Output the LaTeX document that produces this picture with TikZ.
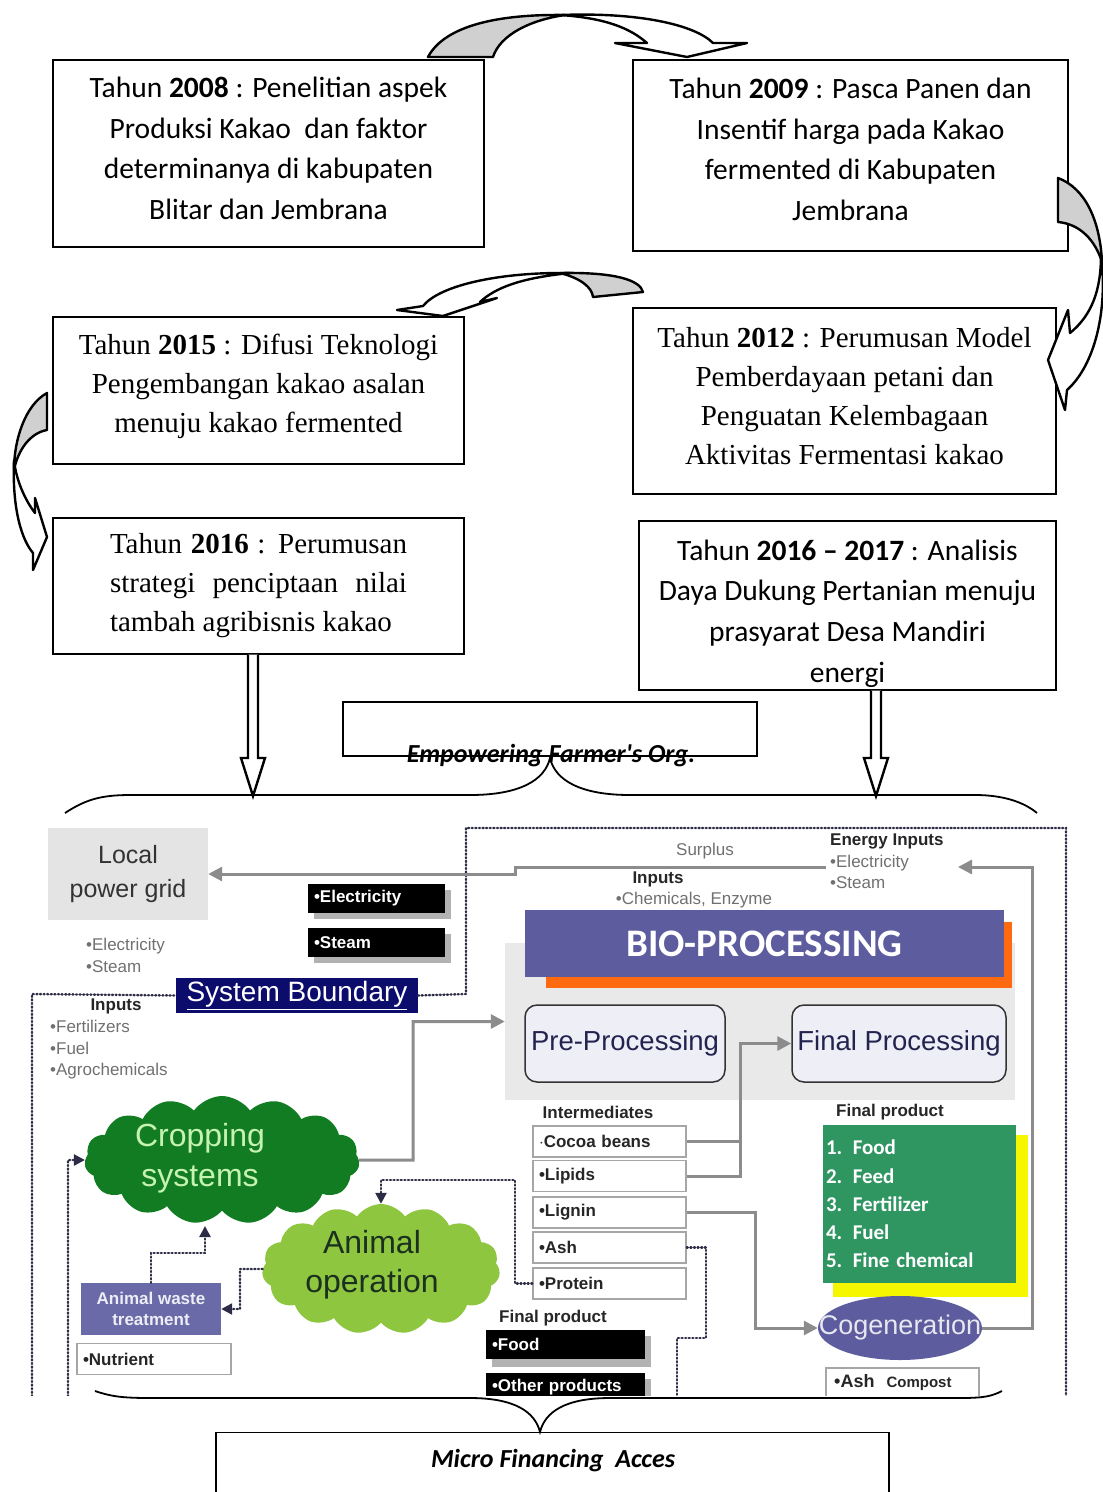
\documentclass[tikz,border=0pt]{standalone}
\usepackage{fontspec}
\setmainfont{Carlito}
\newfontfamily\timesfont{Liberation Serif}
\newfontfamily\arialfont{Liberation Sans}
\usepackage{tikz}
\usetikzlibrary{shapes.geometric,shapes.symbols,arrows.meta,calc}

\definecolor{navyband}{HTML}{0C0C6C}
\definecolor{bioviolet}{HTML}{5C5C9E}
\definecolor{bioorange}{HTML}{FF6A10}
\definecolor{cropgreen}{HTML}{127C22}
\definecolor{croptext}{HTML}{C6F2B2}
\definecolor{animalgreen}{HTML}{8EC640}
\definecolor{animaltext}{HTML}{1C3020}
\definecolor{prodgreen}{HTML}{2F9662}
\definecolor{prodyellow}{HTML}{F6F600}
\definecolor{wasteviolet}{HTML}{6A6AA8}
\definecolor{lavender}{HTML}{EEEEF6}
\definecolor{procblue}{HTML}{23234F}
\definecolor{panelgray}{HTML}{E9E9E9}
\definecolor{gridgray}{HTML}{E4E4E4}
\definecolor{arrowgray}{HTML}{8C8C8C}
\definecolor{textgray}{HTML}{707070}
\definecolor{dotblue}{HTML}{2C2C46}
\definecolor{bandgray}{HTML}{D0D0D0}

\begin{document}
\begin{tikzpicture}[x=1pt,y=1pt,yscale=-1,
    yearbox/.style={draw, line width=1.2, inner sep=0},
    calfont/.style={align=center, inner sep=0, font=\fontsize{29.5}{40.7}\selectfont},
    timfont/.style={align=center, inner sep=0, font=\timesfont\fontsize{29}{39}\selectfont},
    blockarrow/.style={line width=2.4, line join=round},
    hollowarrow/.style={line width=2.4, fill=white, line join=miter},
    brace/.style={line width=1.8},
    graytext/.style={inner sep=0, text=textgray, font=\arialfont\fontsize{17}{21.5}\selectfont},
    boldlabel/.style={inner sep=0, text=black!85, font=\arialfont\bfseries\fontsize{17}{17}\selectfont},
    blackbox/.style={fill=black, text=white, minimum height=29, inner xsep=6, align=left, font=\arialfont\bfseries\fontsize{17}{17}\selectfont},
    ibox/.style={draw=gray!70, line width=1.5, fill=white, minimum height=31, text width=141, inner xsep=6, align=left, text=black!85, font=\arialfont\bfseries\fontsize{17}{17}\selectfont},
    procbox/.style={draw=black!80, line width=1.5, rounded corners=12, fill=lavender, minimum height=77, text=procblue, font=\arialfont\fontsize{27.5}{27.5}\selectfont},
    grayarrow/.style={draw=arrowgray, line width=3, -{Triangle[width=14pt,length=14pt]}},
    dotline/.style={draw=dotblue, line width=2.4, dash pattern=on 1pt off 2.6pt, line cap=round},
    dotarrow/.style={dotline, -{Triangle[width=11pt,length=11pt]}}]
\useasboundingbox (0,0) rectangle (1103,1492);

% Year boxes
\node (y2008) [yearbox, minimum width=431, minimum height=187] at (268.5,153.5) {};
\node (y2009) [yearbox, minimum width=435, minimum height=191] at (850.5,155.5) {};
\node (y2015) [yearbox, minimum width=411, minimum height=147] at (258.5,390.5) {};
\node (y2012) [yearbox, minimum width=423, minimum height=186] at (844.5,401) {};
\node (y2016) [yearbox, minimum width=411, minimum height=136] at (258.5,586) {};
\node (b1617) [yearbox, minimum width=417, minimum height=169] at (847.5,605.5) {};
% Text Node
\node (t2008) [calfont] at ($(y2008)+(0,-5)$) {Tahun \textbf{2008} : Penelitian aspek\\Produksi Kakao\ \ dan faktor\\determinanya di kabupaten\\Blitar dan Jembrana};
\node (t2009) [calfont] at ($(y2009)+(0,-6)$) {Tahun \textbf{2009} : Pasca Panen dan\\Insentif harga pada Kakao\\fermented di Kabupaten\\Jembrana};
\node (t2015) [timfont] at ($(y2015)+(0,-4)$) {Tahun \textbf{2015} : Difusi Teknologi\\Pengembangan kakao asalan\\menuju kakao fermented};
\node (t2012) [timfont] at ($(y2012)+(0,-5)$) {Tahun \textbf{2012} : Perumusan Model\\Pemberdayaan petani dan\\Penguatan Kelembagaan\\Aktivitas Fermentasi kakao};
\node (t2016) [timfont] at (y2016) {\makebox[297pt][s]{Tahun \textbf{2016} : Perumusan}\\\makebox[297pt][s]{strategi penciptaan nilai}\\\makebox[297pt][l]{tambah agribisnis kakao}};
\node (t1617) [calfont] at ($(b1617)+(0,8)$) {Tahun \textbf{2016 -- 2017} : Analisis\\Daya Dukung Pertanian menuju\\prasyarat Desa Mandiri\\energi};

%Curve Arrow 2008 -> 2009
\draw[blockarrow, fill=white] (560,15) .. controls (640,12) and (695,25) .. (713,43) -- (747,43) -- (687,57) -- (615,43) -- (647,43) .. controls (630,28) and (605,18) .. (560,15) -- cycle;
\draw[blockarrow, fill=bandgray] (428,57) .. controls (445,25) and (500,14) .. (565,15) .. controls (530,20) and (500,35) .. (493,57) -- cycle;
%Curve Arrow 2009 -> 2012
\draw[blockarrow, fill=white] (1101,255) .. controls (1108,310) and (1095,365) .. (1067,390) -- (1065,410) -- (1048,360) -- (1068,310) -- (1070,333) .. controls (1092,315) and (1101,290) .. (1101,255) -- cycle;
\draw[blockarrow, fill=bandgray] (1058,178) .. controls (1085,188) and (1100,220) .. (1102,262) .. controls (1095,240) and (1080,224) .. (1058,222) -- cycle;
%Curve Arrow 2012 -> 2015
\draw[blockarrow, fill=white] (570,273) .. controls (500,272) and (440,285) .. (423,306) -- (397,310) -- (443,316) -- (497,298) -- (480,302) .. controls (495,288) and (520,278) .. (570,273) -- cycle;
\draw[blockarrow, fill=bandgray] (643,292) .. controls (640,280) and (615,272) .. (560,273) .. controls (580,278) and (592,287) .. (593,297) -- cycle;
%Curve Arrow 2015 -> 2016
\draw[blockarrow, fill=white] (14,460) .. controls (12,510) and (22,540) .. (33,553) -- (33,570) -- (47,537) -- (35,498) -- (35,513) .. controls (25,500) and (16,480) .. (14,460) -- cycle;
\draw[blockarrow, fill=bandgray] (47,393) .. controls (25,405) and (14,440) .. (14,470) .. controls (18,450) and (30,433) .. (47,430) -- cycle;

% Empowering box
\node (empower) [draw, line width=1.2, minimum width=414, minimum height=54] at (550,729) {};
\node (emptext) [anchor=base, inner sep=0, font=\bfseries\itshape\fontsize{26}{26}\selectfont] at (551,762) {Empowering Farmer\textquotesingle s Org.};

% Hollow arrows
\coordinate (tipL) at (253,796);
\coordinate (tipR) at (876,796);
\draw[hollowarrow] ($(tipL |- y2016.south)+(-5,0)$) -- ($(tipL)+(-5,-38)$) -- ($(tipL)+(-12,-38)$) -- (tipL) -- ($(tipL)+(12,-38)$) -- ($(tipL)+(5,-38)$) -- ($(tipL |- y2016.south)+(5,0)$);
\draw[hollowarrow] ($(tipR |- b1617.south)+(-5,0)$) -- ($(tipR)+(-5,-38)$) -- ($(tipR)+(-12,-38)$) -- (tipR) -- ($(tipR)+(12,-38)$) -- ($(tipR)+(5,-38)$) -- ($(tipR |- b1617.south)+(5,0)$);

%Brace top
\draw[brace] (65,813) .. controls (85,800) and (100,795) .. (130,795) -- (470,795) .. controls (520,795) and (545,780) .. (550,758) .. controls (555,780) and (580,795) .. (630,795) -- (975,795) .. controls (1005,795) and (1025,803) .. (1037,813);

% Bio-processing system figure
\begin{scope}
\clip (0,815) rectangle (1103,1395);
%Shape: Rectangle
\node (grid) [fill=gridgray, minimum width=160, minimum height=92, align=center, text=black!80, font=\arialfont\fontsize{25}{34}\selectfont] at (128,874) {Local\\power grid};
\node (gridout) [graytext, anchor=north west, align=left] at (86,938) {•Electricity\\•Steam};
\fill[gray!60] (314,890) rectangle (451,919);
\fill[gray!60] (314,934) rectangle (451,963);
\node (elec) [blackbox, text width=125] at (376.5,898.5) {•Electricity};
\node (steam) [blackbox, text width=125] at (376.5,942.5) {•Steam};
\node (sysb) [fill=navyband, minimum width=242, minimum height=35, inner sep=0, text=white, font=\arialfont\fontsize{28}{28}\selectfont] at (297,995.5) {\underline{System Boundary}};
%Dotted boundary
\draw[dotline] (32,1400) -- (32,994) -- (sysb.west);
\draw[dotline] (sysb.east) -- (466,994) -- (466,828) -- (1066,828) -- (1066,1400);
% Text Node
\node (inputsA) [boldlabel] at (116,1006) {Inputs};
\node (inlist) [graytext, anchor=north west, align=left] at (50,1020) {•Fertilizers\\•Fuel\\•Agrochemicals};
\node (surplus) [graytext] at (705,851) {Surplus};
\node (inputsB) [boldlabel] at (658,879) {Inputs};
\node (chem) [graytext] at (694,900) {•Chemicals, Enzyme};
\node (energy) [graytext, anchor=north west, align=left] at (830,834) {{\bfseries\color{black!85}Energy Inputs}\\•Electricity\\•Steam};
%Bio-processing panel
\node (panel) [fill=panelgray, minimum width=510, minimum height=157, inner sep=0] at (760,1021.5) {};
\fill[bioorange] (546,922) rectangle (1012,988);
\node (bio) [fill=bioviolet, minimum width=479, minimum height=67, inner sep=0, text=white, font=\bfseries\fontsize{39}{39}\selectfont] at (764.5,943.5) {BIO-PROCESSING};
\node (pre) [procbox, minimum width=200] at (625,1043.5) {Pre-Processing};
\node (final) [procbox, minimum width=214] at (899,1043.5) {Final Processing};
%Clouds
\node (crop) [cloud, cloud puffs=15, cloud puff arc=110, aspect=2.1, fill=cropgreen, minimum width=275, minimum height=128, inner sep=0] at (222,1160) {};
\node (croplabel) [align=center, inner sep=0, text=croptext, font=\arialfont\fontsize{32}{40}\selectfont] at (200,1158) {Cropping\\systems};
\node (animal) [cloud, cloud puffs=15, cloud puff arc=110, aspect=1.8, fill=animalgreen, minimum width=238, minimum height=130, inner sep=0] at (381,1269) {};
\node (animallabel) [align=center, inner sep=0, text=animaltext, font=\arialfont\fontsize{32}{39}\selectfont] at (372,1265) {Animal\\operation};
\node (waste) [fill=wasteviolet, minimum width=140, minimum height=52, align=center, inner sep=0, text=white!88!wasteviolet, font=\arialfont\bfseries\fontsize{17}{21}\selectfont] at (151,1309) {Animal waste\\treatment};
\node (nutrient) [ibox, text width=142] at (154,1359) {•Nutrient};
%Intermediates
\node (interlabel) [boldlabel] at (598,1112) {Intermediates};
\node (cocoa) [ibox] at (609.5,1141.5) {$\cdot$Cocoa beans};
\node (lipids) [ibox] at (609.5,1176) {•Lipids};
\node (lignin) [ibox] at (609.5,1212.5) {•Lignin};
\node (ash) [ibox] at (609.5,1247.5) {•Ash};
\node (protein) [ibox] at (609.5,1283.5) {•Protein};
%Final products
\node (finalR) [boldlabel] at (890,1112) {Final product};
\fill[prodyellow] (833,1135) rectangle (1028,1297);
\node (products) [fill=prodgreen, minimum width=193, minimum height=158, text width=187, inner xsep=3, align=left, text=white, font=\bfseries\fontsize{21}{28.3}\selectfont] at (919.5,1204) {1. Food\\2. Feed\\3. Fertilizer\\4. Fuel\\5. Fine chemical};
\node (cogen) [ellipse, fill=bioviolet, minimum width=164, minimum height=64, inner sep=0, text=white!85!bioviolet, font=\arialfont\fontsize{27}{27}\selectfont] at (900,1328) {\makebox[0pt]{Cogeneration}};
\node (ashcomp) [draw=gray!70, line width=1.5, minimum width=153, minimum height=40, anchor=north west] at (825,1367) {};
\node (ashtext) [anchor=west, inner sep=0, text=black!85, font=\arialfont\bfseries\fontsize{18}{18}\selectfont] at (834,1383) {•Ash\hspace{12pt}{\fontsize{15}{15}\selectfont Compost}};
\node (finalL) [boldlabel] at (553,1318) {Final product};
\fill[gray!60] (492,1336) rectangle (651,1367);
\node (food) [blackbox, text width=147] at (565.5,1344.5) {•Food};
\fill[gray!60] (492,1379) rectangle (651,1410);
\node (other) [blackbox, text width=147] at (565.5,1387) {•Other products};
%Gray connectors
\coordinate (surplusR) at (826,867);
\draw[grayarrow] (surplusR) -- (515,867) -- (515,874) -- (grid.east);
\draw[grayarrow] (crop.east) -- (413,1160) -- (413,1021.5) -- (panel.west);
\draw[draw=arrowgray, line width=3] (cocoa.east) -- (740,1141.5);
\draw[grayarrow] (lipids.east) -- (740,1176) -- (740,1043.5) -- (final.west);
\draw[grayarrow] (lignin.east) -- (755,1212.5) -- (755,1328) -- (cogen.west);
\coordinate (eintip) at (958,867);
\draw[grayarrow] (cogen.east) -- (1032,1328) -- (1032,867) -- (eintip);
%Dotted connectors
\draw[dotline] (ash.east) -- (706,1247.5) -- (706,1338) -- (677,1338) -- (677,1400);
\draw[dotarrow] (protein.west) -- (515,1283.5) -- (515,1180) -- (381,1180) -- (animal.north);
\draw[dotarrow] (waste.north) -- (151,1253) -- (205,1253) -- (205,1226);
\draw[dotarrow] (animal.west) -- (240,1269) -- (240,1309) -- (waste.east);
\draw[dotarrow] (68,1400) -- (68,1160) -- (crop.west);
\end{scope}

%Brace bottom
\draw[brace] (95,1391) .. controls (110,1396) and (120,1398) .. (150,1398) -- (470,1398) .. controls (515,1398) and (535,1412) .. (540,1432) .. controls (545,1412) and (565,1398) .. (610,1398) -- (960,1398) .. controls (985,1398) and (992,1396) .. (1002,1391);

% Micro financing box
\node (micro) [draw, line width=1.2, minimum width=673, minimum height=80, anchor=north] at (552.5,1432) {};
\node (microtext) [inner sep=0, font=\bfseries\itshape\fontsize{26}{26}\selectfont] at (553,1461) {Micro Financing\ \ Acces};
\end{tikzpicture}
\end{document}
